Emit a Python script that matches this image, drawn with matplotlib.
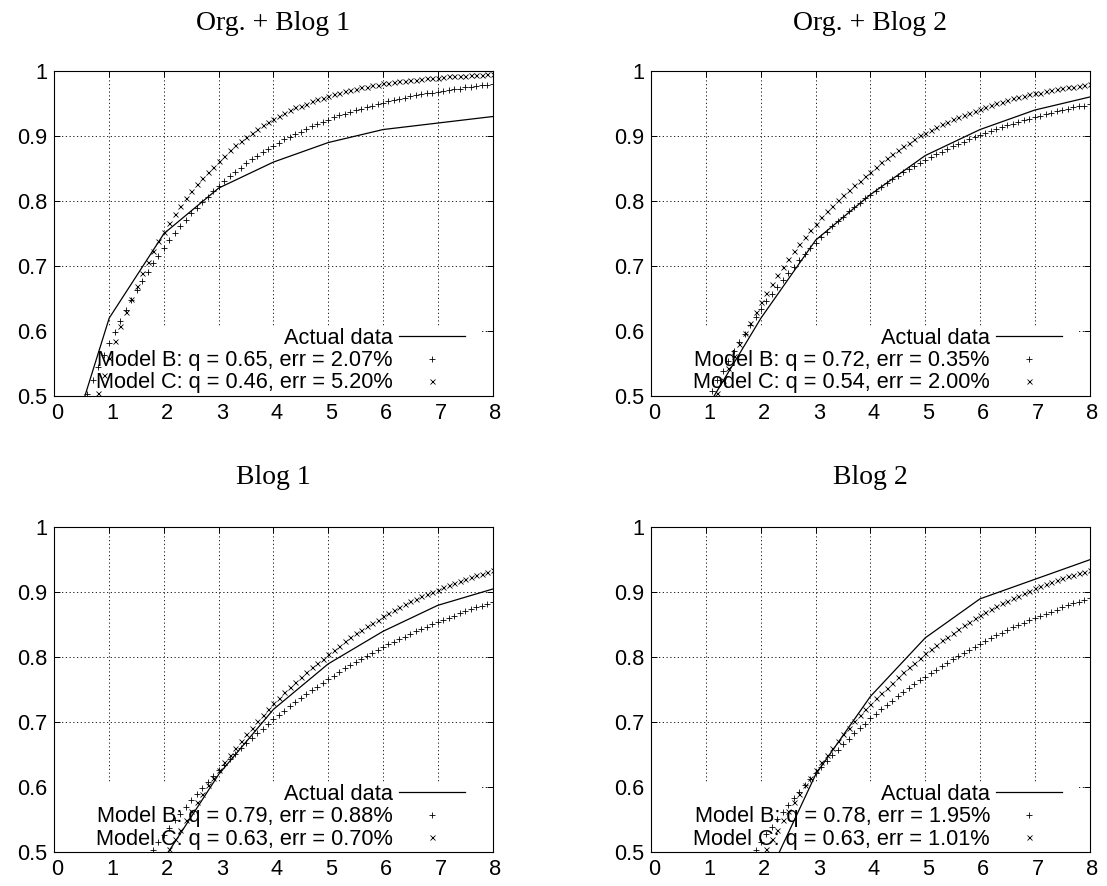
import matplotlib
matplotlib.use('Agg')
import matplotlib.pyplot as plt
import matplotlib.transforms as mtransforms
from matplotlib.patches import Rectangle

plt.rcParams['font.family'] = ['Liberation Sans', 'DejaVu Sans']

# panel titles and legend numbers
titles = ['Org. + Blog 1', 'Org. + Blog 2', 'Blog 1', 'Blog 2']
q_b = ['0.65', '0.72', '0.79', '0.78']
err_b = ['2.07%', '0.35%', '0.88%', '1.95%']
q_c = ['0.46', '0.54', '0.63', '0.63']
err_c = ['5.20%', '2.00%', '0.70%', '1.01%']

# measured points (x = 0..8), each list holds the tail that ends at x = 8
actual_x = [0, 1, 2, 3, 4, 5, 6, 7, 8]
org_blog1_actual = [0.35, 0.62, 0.75, 0.82, 0.86, 0.89, 0.91, 0.92, 0.93]
org_blog2_actual = [0.48, 0.62, 0.74, 0.81, 0.87, 0.91, 0.94, 0.96]
blog1_actual = [0.49, 0.62, 0.72, 0.79, 0.84, 0.88, 0.905]
blog2_actual = [0.44, 0.62, 0.74, 0.83, 0.89, 0.92, 0.95]

# model curves sampled every 0.1, each list also ends at x = 8
model_x = [0.0, 0.1, 0.2, 0.3, 0.4, 0.5, 0.6, 0.7, 0.8, 0.9,
           1.0, 1.1, 1.2, 1.3, 1.4, 1.5, 1.6, 1.7, 1.8, 1.9,
           2.0, 2.1, 2.2, 2.3, 2.4, 2.5, 2.6, 2.7, 2.8, 2.9,
           3.0, 3.1, 3.2, 3.3, 3.4, 3.5, 3.6, 3.7, 3.8, 3.9,
           4.0, 4.1, 4.2, 4.3, 4.4, 4.5, 4.6, 4.7, 4.8, 4.9,
           5.0, 5.1, 5.2, 5.3, 5.4, 5.5, 5.6, 5.7, 5.8, 5.9,
           6.0, 6.1, 6.2, 6.3, 6.4, 6.5, 6.6, 6.7, 6.8, 6.9,
           7.0, 7.1, 7.2, 7.3, 7.4, 7.5, 7.6, 7.7, 7.8, 7.9,
           8.0]

org_blog1_b = [0.503, 0.524, 0.544, 0.563,
               0.582, 0.599, 0.616, 0.633, 0.648, 0.663, 0.677, 0.691, 0.704, 0.716,
               0.728, 0.740, 0.751, 0.761, 0.771, 0.781, 0.790, 0.799, 0.807, 0.816,
               0.823, 0.831, 0.838, 0.845, 0.851, 0.858, 0.864, 0.869, 0.875, 0.880,
               0.885, 0.890, 0.895, 0.899, 0.903, 0.907, 0.911, 0.915, 0.919, 0.922,
               0.925, 0.929, 0.932, 0.934, 0.937, 0.940, 0.942, 0.945, 0.947, 0.949,
               0.951, 0.954, 0.955, 0.957, 0.959, 0.961, 0.963, 0.964, 0.966, 0.967,
               0.968, 0.970, 0.971, 0.972, 0.973, 0.975, 0.976, 0.977, 0.978, 0.979,
               0.980]
org_blog1_c = [0.505, 0.533,
               0.559, 0.584, 0.607, 0.629, 0.650, 0.670, 0.689, 0.706, 0.723, 0.738,
               0.753, 0.767, 0.780, 0.792, 0.804, 0.815, 0.826, 0.835, 0.845, 0.853,
               0.862, 0.870, 0.878, 0.886, 0.893, 0.899, 0.905, 0.911, 0.917, 0.922,
               0.927, 0.931, 0.936, 0.940, 0.944, 0.947, 0.950, 0.954, 0.957, 0.959,
               0.962, 0.964, 0.967, 0.969, 0.971, 0.973, 0.975, 0.976, 0.978, 0.979,
               0.981, 0.982, 0.983, 0.984, 0.985, 0.986, 0.987, 0.988, 0.989, 0.990,
               0.990, 0.991, 0.992, 0.992, 0.993, 0.993, 0.994, 0.994, 0.994, 0.995,
               0.995]
org_blog2_b = [0.492, 0.508, 0.524, 0.539, 0.554, 0.569, 0.583, 0.596, 0.609, 0.622,
               0.634, 0.646, 0.657, 0.668, 0.679, 0.689, 0.699, 0.709, 0.719, 0.728,
               0.736, 0.745, 0.753, 0.761, 0.769, 0.776, 0.784, 0.791, 0.797, 0.804,
               0.810, 0.816, 0.822, 0.828, 0.834, 0.839, 0.844, 0.849, 0.854, 0.859,
               0.863, 0.868, 0.872, 0.876, 0.880, 0.884, 0.888, 0.891, 0.895, 0.898,
               0.902, 0.905, 0.908, 0.911, 0.914, 0.917, 0.919, 0.922, 0.924, 0.927,
               0.929, 0.931, 0.934, 0.936, 0.938, 0.940, 0.942, 0.944, 0.946, 0.947,
               0.949]
org_blog2_c = [0.482, 0.504, 0.524, 0.543, 0.562, 0.580, 0.597, 0.613, 0.629,
               0.644, 0.658, 0.672, 0.686, 0.698, 0.711, 0.723, 0.734, 0.745, 0.755,
               0.765, 0.775, 0.784, 0.793, 0.801, 0.809, 0.817, 0.824, 0.831, 0.838,
               0.845, 0.852, 0.860, 0.866, 0.873, 0.879, 0.885, 0.890, 0.896, 0.901,
               0.905, 0.910, 0.914, 0.918, 0.922, 0.926, 0.930, 0.933, 0.936, 0.939,
               0.942, 0.945, 0.948, 0.951, 0.953, 0.955, 0.958, 0.960, 0.962, 0.964,
               0.966, 0.967, 0.969, 0.971, 0.972, 0.974, 0.975, 0.976, 0.977, 0.978,
               0.980]
blog1_b = [0.492, 0.504, 0.516,
           0.527, 0.538, 0.549, 0.559, 0.569, 0.580, 0.589, 0.599, 0.608, 0.617,
           0.626, 0.635, 0.643, 0.652, 0.660, 0.668, 0.676, 0.683, 0.690, 0.698,
           0.705, 0.712, 0.718, 0.725, 0.731, 0.738, 0.744, 0.750, 0.755, 0.761,
           0.767, 0.772, 0.778, 0.783, 0.788, 0.793, 0.798, 0.802, 0.807, 0.811,
           0.816, 0.820, 0.824, 0.828, 0.832, 0.836, 0.840, 0.844, 0.847, 0.851,
           0.854, 0.858, 0.861, 0.864, 0.868, 0.871, 0.874, 0.877, 0.879, 0.882,
           0.885]
blog1_c = [0.489, 0.505, 0.520, 0.535, 0.549, 0.563, 0.577, 0.590, 0.603, 0.615,
           0.627, 0.639, 0.650, 0.661, 0.672, 0.682, 0.692, 0.702, 0.711, 0.720,
           0.729, 0.738, 0.746, 0.754, 0.762, 0.770, 0.777, 0.785, 0.792, 0.798,
           0.805, 0.812, 0.818, 0.825, 0.831, 0.837, 0.842, 0.848, 0.853, 0.858,
           0.863, 0.868, 0.873, 0.877, 0.882, 0.886, 0.890, 0.894, 0.897, 0.901,
           0.904, 0.908, 0.911, 0.914, 0.917, 0.920, 0.923, 0.926, 0.928, 0.931,
           0.934]
blog2_b = [0.491, 0.504,
           0.516, 0.528, 0.539, 0.551, 0.562, 0.573, 0.583, 0.593, 0.603, 0.613,
           0.622, 0.632, 0.641, 0.650, 0.658, 0.667, 0.675, 0.683, 0.691, 0.698,
           0.706, 0.713, 0.720, 0.727, 0.733, 0.740, 0.746, 0.753, 0.759, 0.765,
           0.770, 0.776, 0.781, 0.787, 0.792, 0.797, 0.802, 0.807, 0.812, 0.816,
           0.821, 0.825, 0.830, 0.834, 0.838, 0.842, 0.846, 0.849, 0.853, 0.857,
           0.860, 0.864, 0.867, 0.870, 0.873, 0.877, 0.880, 0.883, 0.885, 0.888,
           0.891]
blog2_c = [0.489, 0.505, 0.520, 0.535, 0.549, 0.563, 0.577, 0.590, 0.603, 0.615,
           0.627, 0.639, 0.650, 0.661, 0.672, 0.682, 0.692, 0.702, 0.711, 0.720,
           0.728, 0.737, 0.745, 0.753, 0.761, 0.769, 0.777, 0.785, 0.792, 0.799,
           0.806, 0.813, 0.819, 0.826, 0.832, 0.838, 0.843, 0.849, 0.854, 0.860,
           0.865, 0.870, 0.874, 0.879, 0.883, 0.887, 0.891, 0.895, 0.899, 0.902,
           0.906, 0.909, 0.913, 0.916, 0.919, 0.922, 0.925, 0.927, 0.930, 0.932,
           0.935]

y_ticks = [0.5, 0.6, 0.7, 0.8, 0.9, 1.0]
y_tick_labels = ['0.5', '0.6', '0.7', '0.8', '0.9', '1']
x_ticks = [0, 1, 2, 3, 4, 5, 6, 7, 8]

actual_all = [org_blog1_actual, org_blog2_actual, blog1_actual, blog2_actual]
model_b_all = [org_blog1_b, org_blog2_b, blog1_b, blog2_b]
model_c_all = [org_blog1_c, org_blog2_c, blog1_c, blog2_c]

fig = plt.figure(figsize=(11.07, 8.86), dpi=100)
# left, bottom, width, height in figure fraction
boxes = [(0.0492, 0.553, 0.3957, 0.3668), (0.5885, 0.553, 0.3957, 0.3668),
         (0.0492, 0.038, 0.3957, 0.3668), (0.5885, 0.038, 0.3957, 0.3668)]
title_y = [0.974, 0.974, 0.4605, 0.4605]

# gnuplot puts the x labels a few pixels right of the tick
xlabel_shift = mtransforms.ScaledTranslation(3 / 100, 0, fig.dpi_scale_trans)

for i in range(4):
    ax = fig.add_axes(boxes[i])
    act = actual_all[i]
    mb = model_b_all[i]
    mc = model_c_all[i]

    ax.plot(actual_x[-len(act):], act, color='black', lw=0.9, label='Actual data')
    ax.plot(model_x[-len(mb):], mb, linestyle='none', marker='+', ms=4.5, mew=0.6,
            color='black', label=f'Model B: q = {q_b[i]}, err = {err_b[i]}')
    ax.plot(model_x[-len(mc):], mc, linestyle='none', marker='x', ms=3.6, mew=0.6,
            color='black', label=f'Model C: q = {q_c[i]}, err = {err_c[i]}')

    ax.set_xlim(0, 8)
    ax.set_ylim(0.5, 1)
    ax.set_xticks(x_ticks)
    ax.set_yticks(y_ticks)
    ax.set_yticklabels(y_tick_labels)
    ax.tick_params(direction='in', top=True, right=True, length=4, width=0.7,
                   labelsize=15.7, colors='black')
    ax.tick_params(axis='x', pad=5)
    ax.tick_params(axis='y', pad=5)
    for lab in ax.get_xticklabels():
        lab.set_transform(lab.get_transform() + xlabel_shift)
    for s in ax.spines.values():
        s.set_linewidth(0.8)

    ax.set_axisbelow(True)
    ax.grid(True, color='black', lw=0.6, linestyle=(0, (1.5, 3)))

    # blank area behind the key, the way gnuplot clears it
    ax.add_patch(Rectangle((0, 0), 0.972, 0.216, transform=ax.transAxes,
                           facecolor='white', edgecolor='none', zorder=1))

    ax.legend(loc='lower right', bbox_to_anchor=(0.937, 0.008), frameon=False,
              markerfirst=False, fontsize=15.7, borderpad=0, borderaxespad=0,
              handlelength=3.0, handletextpad=0.3, labelspacing=0.06)

    fig.text(boxes[i][0] + boxes[i][2] / 2, title_y[i], titles[i],
             family='Liberation Serif', fontsize=20, ha='center', va='center')

fig.savefig('out.png', dpi=100)
